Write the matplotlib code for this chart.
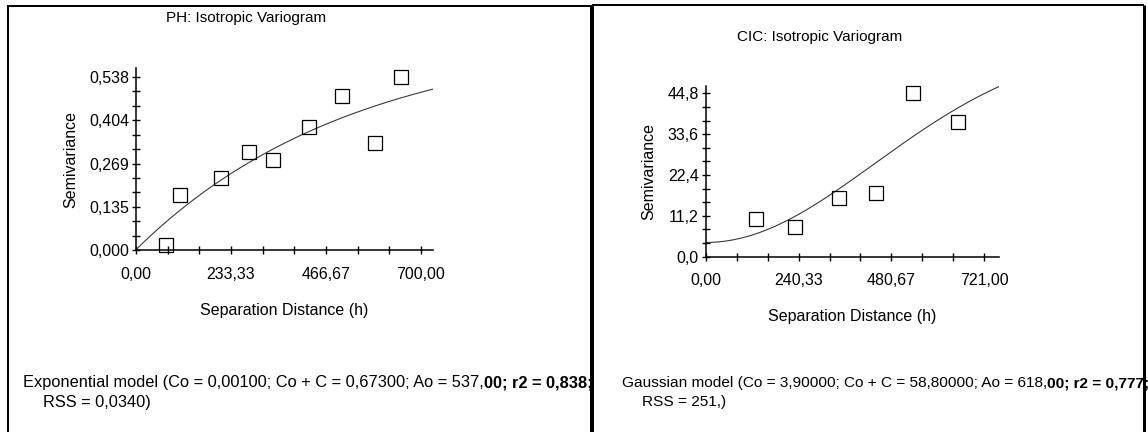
import numpy as np
import matplotlib
matplotlib.use("Agg")
import matplotlib.pyplot as plt
from matplotlib.lines import Line2D
from matplotlib import font_manager as fm

# ---- data -----------------------------------------------------------------
ph_lag = [74, 108, 210, 278, 336, 424, 505, 587, 652]
ph_gamma = [0.015, 0.171, 0.223, 0.306, 0.280, 0.381, 0.478, 0.334, 0.538]
ph_model = dict(c0=0.00100, sill=0.67300, a0=537.00)
ph_xticklabels = ["0,00", "233,33", "466,67", "700,00"]
ph_yticklabels = ["0,000", "0,135", "0,269", "0,404", "0,538"]

cic_lag = [129, 232, 344, 441, 537, 652]
cic_gamma = [10.3, 8.1, 16.2, 17.6, 44.8, 37.0]
cic_model = dict(c0=3.90000, sill=58.80000, a0=618.00)
cic_xticklabels = ["0,00", "240,33", "480,67", "721,00"]
cic_yticklabels = ["0,0", "11,2", "22,4", "33,6", "44,8"]

ph_caption = ("Exponential model (Co = 0,00100; Co + C = 0,67300; Ao = 537,",
              "00; r2 = 0,838;", "RSS = 0,0340)")
cic_caption = ("Gaussian model (Co = 3,90000; Co + C = 58,80000; Ao = 618,",
               "00; r2 = 0,777;", "RSS = 251,)")

# ---- fonts ------------------------------------------------------------------
names = {f.name for f in fm.fontManager.ttflist}
FAM = ["Liberation Sans Narrow", "Liberation Sans", "DejaVu Sans"]
FAM = [f for f in FAM if f in names] or ["DejaVu Sans"]
plt.rcParams["font.family"] = FAM

W, H = 1148, 432
fig = plt.figure(figsize=(W / 100, H / 100), dpi=100)
fig.patch.set_facecolor("white")


def fx(px):
    return px / W


def fy(py):
    return 1 - py / H


def exponential(h, c0, sill, a0):
    return c0 + (sill - c0) * (1 - np.exp(-h / a0))


def gaussian(h, c0, sill, a0):
    return c0 + (sill - c0) * (1 - np.exp(-(h / a0) ** 2))


def variogram(rect, lag, gamma, model, params, xmax, xstep, ymax, ystep,
              xlabels, ylabels, title, title_xy):
    ax = fig.add_axes(rect)
    h = np.linspace(0, xmax, 300)
    ax.plot(h, model(h, **params), color="#3a3a3a", lw=0.8, zorder=2)
    ax.plot(lag, gamma, ls="none", marker="s", ms=9.5, mfc="none",
            mec="black", mew=0.9, zorder=3, clip_on=False)
    ax.set_xlim(0, xmax)
    ax.set_ylim(0, ymax)
    xt = np.arange(10) * xstep
    ax.set_xticks(xt)
    ax.set_xticklabels([xlabels[i // 3] if i % 3 == 0 else "" for i in range(10)])
    yt = np.arange(13) * ystep
    ax.set_yticks(yt)
    ax.set_yticklabels([ylabels[i // 3] if i % 3 == 0 else "" for i in range(13)])
    for s in ("top", "right"):
        ax.spines[s].set_visible(False)
    for s in ("left", "bottom"):
        ax.spines[s].set_linewidth(1.1)
    ax.tick_params(axis="both", direction="inout", length=6, width=1.0,
                   labelsize=11.5, colors="black")
    ax.tick_params(axis="x", pad=9)
    ax.tick_params(axis="y", pad=2)
    ax.set_xlabel("Separation Distance (h)", fontsize=11.5, labelpad=15)
    ax.set_ylabel("Semivariance", fontsize=11.5, labelpad=8)
    fig.text(fx(title_xy[0]), fy(title_xy[1]), title, fontsize=11,
             ha="center", va="center")
    return ax


variogram([fx(136), fy(250), fx(432.7 - 136), (250 - 68) / H],
          ph_lag, ph_gamma, exponential, ph_model, 729, 700 / 9,
          0.566, 0.538 / 12, ph_xticklabels, ph_yticklabels,
          "PH: Isotropic Variogram", (246, 18))

variogram([fx(705.7), fy(256.7), fx(293.7), (256.7 - 86) / H],
          cic_lag, cic_gamma, gaussian, cic_model, 760, 721 / 9,
          46.8, 44.8 / 12, cic_xticklabels, cic_yticklabels,
          "CIC: Isotropic Variogram", (820, 37))

# ---- model captions ---------------------------------------------------------
renderer = fig.canvas.get_renderer()


def caption(x, x_end, parts, size=12.0):
    # first line: regular text followed by a bold tail, sized to span x..x_end
    t1 = fig.text(fx(x), fy(383), parts[0], fontsize=size, va="center", ha="left")
    t2 = fig.text(0, fy(383), parts[1], fontsize=size, va="center",
                  ha="left", fontweight="bold")
    for _ in range(3):
        bb1 = t1.get_window_extent(renderer=renderer)
        t2.set_x(bb1.x1 / W)
        bb2 = t2.get_window_extent(renderer=renderer)
        size *= (x_end - x) / (bb2.x1 - bb1.x0)
        t1.set_fontsize(size)
        t2.set_fontsize(size)
    bb1 = t1.get_window_extent(renderer=renderer)
    t2.set_x(bb1.x1 / W)
    fig.text(fx(x + 20), fy(402), parts[2], fontsize=size, va="center", ha="left")


caption(23, 592, ph_caption)
caption(622, 1146, cic_caption)

# ---- panel frames -----------------------------------------------------------
def frame_line(xs, ys, lw_px):
    fig.add_artist(Line2D([fx(v) for v in xs], [fy(v) for v in ys],
                          color="black", lw=lw_px * 0.72, zorder=10,
                          solid_capstyle="butt"))


frame_line([7, 592], [5.5, 5.5], 2)
frame_line([8, 8], [5.5, 432], 2)
frame_line([592, 592], [4.5, 432], 4)
frame_line([592, 1144], [4.5, 4.5], 2)
frame_line([1144, 1144], [4.5, 432], 3)

fig.savefig("out.png", dpi=100, facecolor="white")
